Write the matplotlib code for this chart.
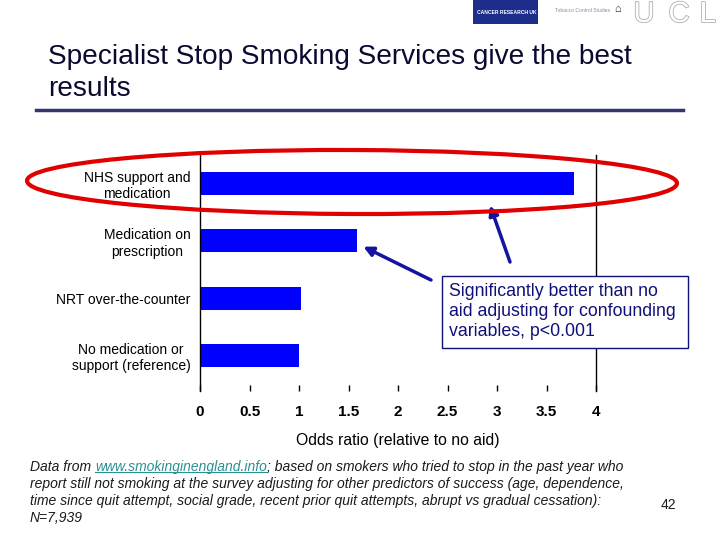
import matplotlib
matplotlib.use("Agg")
from matplotlib import pyplot as plt
from matplotlib.patches import Ellipse, Rectangle
from matplotlib import patheffects

# data
kategorien = ["NHS support and\nmedication", "Medication on\nprescription",
              "NRT over-the-counter", "No medication or\nsupport (reference)"]
odds_ratio = [3.78, 1.59, 1.02, 1.0]
x_ticks = [0, 0.5, 1, 1.5, 2, 2.5, 3, 3.5, 4]
x_tick_labels = ["0", "0.5", "1", "1.5", "2", "2.5", "3", "3.5", "4"]

titel = "Specialist Stop Smoking Services give the best\nresults"
hinweis = "Significantly better than no\naid adjusting for confounding\nvariables, p<0.001"
fussnote_link = "www.smokinginengland.info"
fussnote_rest = [
    "report still not smoking at the survey adjusting for other predictors of success (age, dependence,",
    "time since quit attempt, social grade, recent prior quit attempts, abrupt vs gradual cessation):",
    "N=7,939",
]

plt.rcParams['font.family'] = ['Liberation Sans', 'DejaVu Sans']

W, H = 720, 540
fig = plt.figure(figsize=(7.2, 5.4), dpi=100)


def fx(px):
    return px / W


def fy(py):
    return 1 - py / H


ax = fig.add_axes([fx(200), fy(391), fx(596) - fx(200), fy(155) - fy(391)])
pos = list(range(len(kategorien)))
ax.barh(pos, odds_ratio, height=0.4, color='#0000ff')
ax.set_ylim(3.62, -0.5)
ax.set_xlim(0, 4)
ax.set_yticks(pos)
ax.set_yticklabels(kategorien, fontsize=10, multialignment='center')
ax.tick_params(axis='y', length=0, pad=7)
ax.set_xticks(x_ticks)
ax.set_xticklabels(x_tick_labels, fontsize=11, fontweight='bold')
ax.tick_params(axis='x', direction='in', length=4.5, width=1, pad=10)
ax.set_xlabel("Odds ratio (relative to no aid)", fontsize=11.3, labelpad=10)
ax.spines['top'].set_visible(False)
ax.spines['bottom'].set_visible(False)
ax.spines['left'].set_linewidth(1)
ax.spines['right'].set_linewidth(1)

# Titel mit Linie
fig.text(fx(48), fy(44), titel, fontsize=20.2, color='#0a0a30', va='top', ha='left', linespacing=1.3)
fig.add_artist(plt.Line2D([fx(36), fx(683)], [fy(110), fy(110)], color='#343470', lw=2.5))

# Logos oben rechts
fig.add_artist(Rectangle((fx(473), fy(24)), fx(538) - fx(473), fy(0) - fy(24), color='#1c2d8c', lw=0))
fig.text(fx(477), fy(12), "CANCER RESEARCH UK", fontsize=3.6, color='white', va='center', fontweight='bold')
fig.text(fx(555), fy(11), "Tobacco Control Studies", fontsize=3.6, color='#8090b0', va='center')
fig.text(fx(618), fy(9), "\u2302", fontsize=8, color='#222222', va='center', ha='center')
ucl = dict(fontsize=21, color='white', va='center', ha='center',
           path_effects=[patheffects.withStroke(linewidth=1.2, foreground='#b0b0b0')])
fig.text(fx(644), fy(14), "U", **ucl)
fig.text(fx(679), fy(14), "C", **ucl)
fig.text(fx(708), fy(14), "L", **ucl)

# rote Ellipse um den ersten Balken
fig.add_artist(Ellipse((fx(352), fy(182)), fx(650), 64 / H, angle=-0.3,
                       fill=False, edgecolor='#e00000', lw=3))

# Hinweis-Box mit Pfeilen (weisse Box verdeckt die rechte Achsenlinie)
fig.add_artist(Rectangle((fx(442), fy(348)), fx(688) - fx(442), fy(276) - fy(348),
                         facecolor='white', edgecolor='#10107a', lw=1, zorder=2))
fig.text(fx(449), fy(283), hinweis, fontsize=12.8, color='#10107a', va='top', ha='left',
         linespacing=1.25, zorder=3)
pfeil = dict(arrowstyle='-|>', color='#1414a0', lw=2.5, mutation_scale=14, shrinkA=0, shrinkB=0)
ax.annotate("", xy=(odds_ratio[1] + 0.06, pos[1] + 0.1), xytext=(fx(431), fy(280)),
            textcoords='figure fraction', arrowprops=pfeil, annotation_clip=False)
ax.annotate("", xy=(2.93, pos[0] + 0.38), xytext=(fx(510), fy(262)),
            textcoords='figure fraction', arrowprops=pfeil, annotation_clip=False)

# Fussnote
fuss = dict(fontsize=10, style='italic', color='#1a1a1a', va='center', ha='left')
renderer = fig.canvas.get_renderer()
t1 = fig.text(fx(30), fy(467), "Data from ", **fuss)
x = t1.get_window_extent(renderer).x1
t2 = fig.text(x / W, fy(467), fussnote_link, **dict(fuss, color='#2a9090'))
bb = t2.get_window_extent(renderer)
fig.add_artist(plt.Line2D([bb.x0 / W, bb.x1 / W], [bb.y0 / H + 0.003, bb.y0 / H + 0.003],
                          color='#2a9090', lw=0.8))
fig.text(bb.x1 / W, fy(467), "; based on smokers who tried to stop in the past year who", **fuss)
for i, zeile in enumerate(fussnote_rest):
    fig.text(fx(30), fy(484 + 17 * i), zeile, **fuss)
fig.text(fx(668), fy(505), "42", fontsize=10, color='#1a1a1a', va='center', ha='center')

fig.savefig("out.png", dpi=100)
